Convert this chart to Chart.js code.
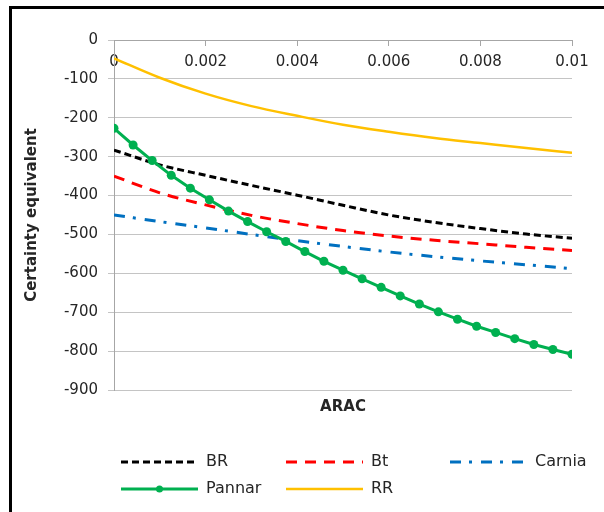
<!DOCTYPE html>
<html>
<head>
<meta charset="utf-8">
<script src="https://cdn.jsdelivr.net/npm/chart.js@4/dist/chart.umd.min.js"></script>
<style>
  html, body { margin: 0; padding: 0; background: #ffffff; }
  canvas { display: block; }
</style>
</head>
<body>
<canvas id="ceChart" width="604" height="512"></canvas>
<script>
// Absolute risk aversion coefficient (ARAC) grid for the Pannar series
const pannarArac = [0, 0.000417, 0.000833, 0.00125, 0.001667, 0.002083, 0.0025, 0.002917,
  0.003333, 0.00375, 0.004167, 0.004583, 0.005, 0.005417, 0.005833, 0.00625, 0.006667,
  0.007083, 0.0075, 0.007917, 0.008333, 0.00875, 0.009167, 0.009583, 0.01];
const pannarCE = [-227, -270, -310, -348, -381, -411, -440, -467, -493, -518, -544, -569,
  -592, -614, -636, -658, -679, -699, -718, -736, -752, -768, -783, -796, -808];

// ARAC grid for the smooth curves
const curveArac = [0, 0.001, 0.002, 0.003, 0.004, 0.005, 0.006, 0.007, 0.008, 0.009, 0.01];
const brCE     = [-283, -321, -348, -374, -399, -425, -450, -469, -485, -499, -510];
const btCE     = [-350, -393, -424, -451, -472, -490, -504, -515, -524, -533, -541];
const carniaCE = [-450, -467, -483, -500, -516, -531, -545, -557, -568, -578, -588];
const rrCE     = [-47, -97, -138, -170, -195, -218, -236, -252, -265, -278, -290];

const seriesNames = ['BR', 'Bt', 'Carnia', 'Pannar', 'RR'];
const xTickLabels = ['0', '0.002', '0.004', '0.006', '0.008', '0.01'];

const toPoints = (xs, ys) => xs.map((x, i) => ({ x: x, y: ys[i] }));

Chart.defaults.font.family = "'DejaVu Sans', sans-serif";

// Frame lines and the two-row legend below the axis title
const frameAndLegend = {
  id: 'frameAndLegend',
  beforeDraw(chart) {
    const ctx = chart.ctx;
    ctx.save();
    ctx.fillStyle = '#ffffff';
    ctx.fillRect(0, 0, chart.width, chart.height);
    ctx.restore();
  },
  afterDraw(chart) {
    const ctx = chart.ctx;
    ctx.save();
    ctx.fillStyle = '#000000';
    ctx.fillRect(9, 6, chart.width - 9, 3);
    ctx.fillRect(9, 6, 3, chart.height - 6);

    const cols = [121, 286, 450];
    const rows = [462, 489];
    const lineLen = 77;
    const gap = 8;
    chart.data.datasets.forEach((ds, i) => {
      const x0 = cols[i % 3];
      const y0 = rows[Math.floor(i / 3)];
      ctx.save();
      ctx.strokeStyle = ds.borderColor;
      ctx.lineWidth = ds.borderWidth;
      ctx.setLineDash(ds.borderDash || []);
      ctx.beginPath();
      ctx.moveTo(x0, y0);
      ctx.lineTo(x0 + lineLen, y0);
      ctx.stroke();
      if (ds.pointRadius > 0) {
        ctx.fillStyle = ds.pointBackgroundColor;
        ctx.beginPath();
        ctx.arc(x0 + lineLen / 2, y0, 3.5, 0, Math.PI * 2);
        ctx.fill();
      }
      ctx.restore();
      ctx.fillStyle = '#262626';
      ctx.font = "16px 'DejaVu Sans', sans-serif";
      ctx.textBaseline = 'middle';
      ctx.textAlign = 'left';
      ctx.fillText(ds.label, x0 + lineLen + gap, y0);
    });
    ctx.restore();
  }
};

new Chart(document.getElementById('ceChart'), {
  type: 'line',
  data: {
    datasets: [
      {
        label: seriesNames[0], data: toPoints(curveArac, brCE),
        borderColor: '#000000', borderWidth: 3, borderDash: [7, 4],
        pointRadius: 0, cubicInterpolationMode: 'monotone', order: 2
      },
      {
        label: seriesNames[1], data: toPoints(curveArac, btCE),
        borderColor: '#ff0000', borderWidth: 3, borderDash: [11, 8],
        pointRadius: 0, cubicInterpolationMode: 'monotone', order: 2
      },
      {
        label: seriesNames[2], data: toPoints(curveArac, carniaCE),
        borderColor: '#0070c0', borderWidth: 3, borderDash: [11, 8, 3, 9],
        pointRadius: 0, cubicInterpolationMode: 'monotone', order: 2
      },
      {
        label: seriesNames[3], data: toPoints(pannarArac, pannarCE),
        borderColor: '#00b050', borderWidth: 3,
        pointRadius: 4.5, pointBackgroundColor: '#00b050', pointBorderWidth: 0,
        pointHoverRadius: 4.5, tension: 0, order: 0
      },
      {
        label: seriesNames[4], data: toPoints(curveArac, rrCE),
        borderColor: '#ffc000', borderWidth: 2.5,
        pointRadius: 0, cubicInterpolationMode: 'monotone', order: 1
      }
    ]
  },
  options: {
    responsive: false,
    animation: false,
    devicePixelRatio: 1,
    layout: { padding: { top: 40, right: 32, bottom: 0, left: 0 } },
    plugins: {
      legend: { display: false },
      tooltip: { enabled: false }
    },
    scales: {
      x: {
        type: 'linear',
        position: { y: 0 },
        min: 0,
        max: 0.01,
        ticks: {
          stepSize: 0.002,
          maxRotation: 0,
          autoSkip: false,
          padding: 8,
          color: '#262626',
          font: { size: 15 },
          callback: (value, index) => xTickLabels[index]
        },
        grid: { drawOnChartArea: false, drawTicks: true, tickLength: 5, color: '#a6a6a6' },
        border: { color: '#a6a6a6', width: 1 }
      },
      x2: {
        type: 'linear',
        position: 'bottom',
        min: 0,
        max: 0.01,
        ticks: { display: false },
        grid: { display: false, drawTicks: false },
        border: { display: false },
        title: {
          display: true, text: 'ARAC', color: '#262626',
          font: { size: 15, weight: 'bold' },
          padding: { top: 0, bottom: 96 }
        },
        afterFit(scale) { scale.height = 122; }
      },
      y: {
        min: -900,
        max: 0,
        ticks: {
          stepSize: 100,
          padding: 10,
          color: '#262626',
          font: { size: 15 }
        },
        grid: { color: '#c4c4c4', tickLength: 6, lineWidth: 1 },
        border: { color: '#a6a6a6', width: 1 },
        title: {
          display: true, text: 'Certainty equivalent', color: '#262626',
          font: { size: 15, weight: 'bold' },
          padding: { top: 23, bottom: 0 }
        },
        afterFit(scale) { scale.width = 114; }
      }
    }
  },
  plugins: [frameAndLegend]
});
</script>
</body>
</html>
